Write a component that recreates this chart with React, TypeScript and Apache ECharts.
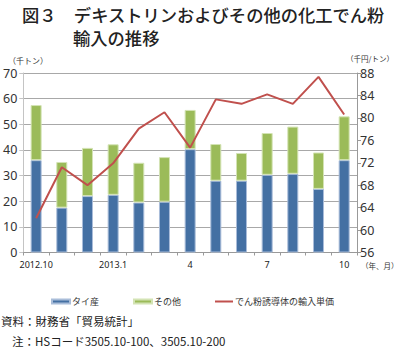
import React, { useEffect, useRef } from "react";
import * as echarts from "echarts";

const categories = ["2012.10", "11", "12", "2013.1", "2", "3", "4", "5", "6", "7", "8", "9", "10"];
const thai = [36, 17.5, 22, 22.5, 19.5, 19.8, 40.3, 28, 28, 30.3, 30.7, 24.8, 36];
const others = [21.5, 17.8, 18.8, 19.7, 15.5, 17.4, 15.3, 14.3, 10.8, 16.3, 18.4, 14.2, 17.1];
const unitPrice = [62.1, 71.2, 68.0, 71.9, 78.1, 81.0, 74.7, 83.3, 82.5, 84.2, 82.5, 87.3, 80.6];

const titleLine1 = "図３　デキストリンおよびその他の化工でん粉";
const titleLine2 = "輸入の推移";
const note1 = "資料：財務省「貿易統計」";
const note2 = "注：HSコード3505.10-100、3505.10-200";

const JP = "'Noto Sans CJK JP', 'Noto Sans', sans-serif";
const NUM = "'Noto Sans', 'Noto Sans CJK JP', sans-serif";

export default function App() {
  const ref = useRef<HTMLDivElement>(null);
  useEffect(() => {
    if (!ref.current) return;
    const chart = echarts.init(ref.current, null, { renderer: "svg" });
    chart.setOption({
      animation: false,
      backgroundColor: "#ffffff",
      grid: { left: 22, right: 43, top: 73, bottom: 102.5, containLabel: false },
      legend: {
        left: 46,
        top: 292,
        itemGap: 34,
        itemWidth: 18,
        itemHeight: 4,
        textStyle: { fontFamily: JP, fontSize: 9, color: "#333", padding: [0, 0, 0, -3] },
        data: [
          { name: "タイ産", icon: "rect" },
          { name: "その他", icon: "rect" },
          { name: "でん粉誘導体の輸入単価", icon: "path://M0,0H18V2H0Z" },
        ],
      },
      xAxis: {
        type: "category",
        data: categories,
        axisLine: { lineStyle: { color: "#999", width: 1 } },
        axisTick: { show: true, interval: 0, length: 3, lineStyle: { color: "#999" } },
        axisLabel: {
          interval: (i: number) => i % 3 === 0,
          fontFamily: NUM,
          fontSize: 9,
          color: "#222",
          margin: 7,
        },
      },
      yAxis: [
        {
          type: "value",
          min: 0,
          max: 70,
          interval: 10,
          axisLine: { show: true, lineStyle: { color: "#c4c4c4" } },
          axisTick: { show: true, length: 4, lineStyle: { color: "#c4c4c4" } },
          axisLabel: { fontFamily: NUM, fontSize: 12.5, color: "#333", margin: 6 },
          splitLine: { show: true, lineStyle: { color: "#a8a8a8", width: 1 } },
        },
        {
          type: "value",
          min: 56,
          max: 88,
          interval: 4,
          position: "right",
          axisLine: { show: true, lineStyle: { color: "#999" } },
          axisTick: { show: true, length: 4, lineStyle: { color: "#999" } },
          axisLabel: { fontFamily: NUM, fontSize: 12.5, color: "#333", margin: 3 },
          splitLine: { show: false },
        },
      ],
      series: [
        {
          name: "タイ産",
          type: "bar",
          stack: "total",
          barWidth: 11,
          data: thai,
          itemStyle: { color: "#4470A3", borderColor: "#a9bdd9", borderWidth: 1 },
        },
        {
          name: "その他",
          type: "bar",
          stack: "total",
          barWidth: 11,
          data: others,
          itemStyle: { color: "#9BBB59", borderColor: "#d3e3b4", borderWidth: 1 },
        },
        {
          name: "でん粉誘導体の輸入単価",
          type: "line",
          yAxisIndex: 1,
          data: unitPrice,
          symbol: "none",
          lineStyle: { color: "#C0504D", width: 2 },
          itemStyle: { color: "#C0504D" },
        },
      ],
      graphic: [
        {
          type: "text",
          left: 22,
          top: 6,
          style: { text: titleLine1, font: `500 17.3px ${JP}`, fill: "#222" },
        },
        {
          type: "text",
          left: 73,
          top: 29,
          style: { text: titleLine2, font: `500 17.3px ${JP}`, fill: "#222" },
        },
        {
          type: "text",
          left: 8,
          top: 56,
          style: { text: "（千トン）", font: `8px ${JP}`, fill: "#333" },
        },
        {
          type: "text",
          left: 346,
          top: 55,
          style: { text: "（千円/トン）", font: `7.5px ${JP}`, fill: "#333" },
        },
        {
          type: "text",
          left: 361,
          top: 261.5,
          style: { text: "（年、月）", font: `7.5px ${JP}`, fill: "#333" },
        },
        {
          type: "text",
          left: 1,
          top: 315,
          style: { text: note1, font: `11.5px ${JP}`, fill: "#222" },
        },
        {
          type: "text",
          left: 12,
          top: 335,
          style: { text: note2, font: `11.5px ${JP}`, fill: "#222" },
        },
      ],
    });
    return () => chart.dispose();
  }, []);
  return (
    <div
      ref={ref}
      style={{ position: "absolute", left: 0, top: 0, width: 400, height: 355 }}
    />
  );
}
